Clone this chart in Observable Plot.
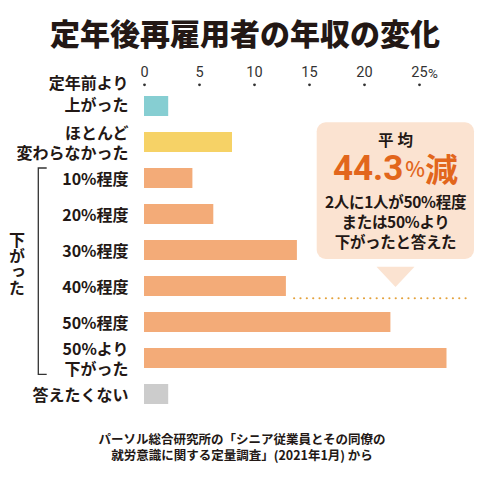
<!DOCTYPE html>
<html><head><meta charset="utf-8">
<script src="https://cdn.jsdelivr.net/npm/d3@7"></script>
<script src="https://cdn.jsdelivr.net/npm/@observablehq/plot@0.6"></script>
<style>
body{margin:0;background:#fff;font-family:"Noto Sans CJK JP",sans-serif;color:#231815;}
#wrap{width:500px;height:480px;overflow:hidden;}
#title{height:56px;line-height:54px;padding-top:5px;box-sizing:border-box;text-align:center;font-size:30px;font-weight:900;padding-right:10px;}
#caption{text-align:center;font-size:12.5px;line-height:16px;padding-top:10.5px;padding-right:16px;font-weight:600;}
svg{display:block;}
</style></head>
<body>
<div id="wrap">
<div id="title">定年後再雇用者の年収の変化</div>
<div id="chart"></div>
<div id="caption">パーソル総合研究所の「シニア従業員とその同僚の<br>就労意識に関する定量調査」(2021年1月) から</div>
</div>
<script>
const categories = ["定年前より\n上がった","ほとんど\n変わらなかった","10%程度","20%程度","30%程度","40%程度","50%程度","50%より\n下がった","答えたくない"];
const values = [2.2, 8.0, 4.4, 6.3, 13.9, 12.9, 22.4, 27.5, 2.2];
const groups = ["up","same","down","down","down","down","down","down","na"];
const groupNames = ["up","same","down","na"];
const groupColors = ["#86ced2","#f6d266","#f3ab78","#cccccc"];
const xTicks = [0, 5, 10, 15, 20, 25];
const bracketGroup = "down";
const bracketLabel = "下がった";
const calloutHead = "平均";
const calloutValue = "44.3";
const calloutLines = ["2人に1人が50%程度","または50%より","下がったと答えた"];

const data = categories.map((c, i) => ({label: c, value: values[i], group: groups[i]}));

const H = 364, MT = 30, MB = 5, PI = 0.44, PO = 0.22;
const step = (H - MT - MB) / (categories.length - PI + 2 * PO);
const bw = step * (1 - PI);
const dotRow = categories[5];
const dotVal = values[5];

const FONT_JP = '"Noto Sans CJK JP", sans-serif';
const FONT_NUM = '"Liberation Sans Narrow", "Roboto", sans-serif';
const yAxisStyle = {tickSize: 0, tickPadding: 16, fontSize: 16, fontWeight: 700, lineHeight: 1.22,
  fill: "#231815", tickFormat: d => d, label: null};

const chart = Plot.plot({
  width: 500, height: H,
  marginTop: MT, marginBottom: MB, marginLeft: 144, marginRight: 26,
  x: {domain: [0, 30], axis: null, label: null},
  y: {domain: categories, paddingInner: PI, paddingOuter: PO, axis: null, label: null},
  color: {domain: groupNames, range: groupColors},
  style: {fontFamily: FONT_JP, color: "#231815", background: "#fff"},
  marks: [
    Plot.barX(data, {x: "value", y: "label", fill: "group"}),
    Plot.axisX({anchor: "top", ticks: xTicks, tickSize: 0, tickPadding: 10, fontSize: 14.5,
      fontFamily: FONT_NUM, fill: "#333", tickFormat: d => String(d), label: null}),
    Plot.dot(xTicks, {x: d => d, frameAnchor: "top", dy: -1.7, r: 1.4, fill: "#333", stroke: null}),
    Plot.text(["%"], {x: () => 25, frameAnchor: "top", dy: -18, dx: 8.5, textAnchor: "start",
      fontSize: 13.5, fontFamily: FONT_NUM, fill: "#333"}),
    Plot.axisY({...yAxisStyle, ticks: categories.slice(1)}),
    Plot.axisY({...yAxisStyle, ticks: categories.slice(0, 1), dy: -14, lineHeight: 1.38}),
    Plot.ruleY([dotRow], {y: d => d, dy: bw / 2 + 1.5, x1: dotVal + 0.75, x2: 29.8,
      stroke: "#e4a23c", strokeWidth: 2.2, strokeDasharray: "0 6.35", strokeLinecap: "round"})
  ]
});
document.getElementById("chart").appendChild(chart);

// Annotations derived from the scales
const ys = chart.scale("y");
const downCats = categories.filter((c, i) => groups[i] === bracketGroup);
const yTop = ys.apply(downCats[0]);
const yBot = ys.apply(downCats[downCats.length - 1]) + bw + 6;
const svg = d3.select(chart);
const bx = 38.3;
svg.append("path")
  .attr("d", `M${bx + 8.4},${yTop}H${bx}V${yBot}H${bx + 8.4}`)
  .attr("fill", "none").attr("stroke", "#333").attr("stroke-width", 1.3);
svg.append("text")
  .attr("x", 17).attr("y", (yTop + yBot) / 2 - 7)
  .attr("text-anchor", "middle")
  .style("writing-mode", "vertical-rl")
  .attr("font-family", FONT_JP)
  .attr("font-size", 16).attr("font-weight", 700).attr("fill", "#231815")
  .text(bracketLabel);

// Callout box
const cx = 395.5;
const g = svg.append("g").attr("font-family", FONT_JP).attr("text-anchor", "middle");
g.append("rect").attr("x", 316.7).attr("y", 66.3).attr("width", 157.3).attr("height", 136.7)
  .attr("rx", 9).attr("fill", "#fbe3d1");
g.append("path").attr("d", `M${cx - 19},${210.7}L${cx + 19},${210.7}L${cx},${231}Z`).attr("fill", "#fbe3d1");
g.append("text").attr("x", cx + 2).attr("y", 83).attr("dominant-baseline", "central")
  .attr("font-size", 15.5).attr("font-weight", 700).attr("fill", "#231815").attr("letter-spacing", 4)
  .text(calloutHead);
const big = g.append("text").attr("x", cx).attr("y", 112).attr("dominant-baseline", "central")
  .attr("font-weight", 700).attr("fill", "#e2661c");
big.append("tspan").attr("font-size", 35).attr("font-family", '"Roboto", sans-serif').text(calloutValue);
big.append("tspan").attr("font-size", 21).attr("font-weight", 500).attr("dx", 2).text("%");
big.append("tspan").attr("font-size", 33).text("減");
calloutLines.forEach((t, i) => {
  g.append("text").attr("x", cx).attr("y", 145 + i * 20).attr("dominant-baseline", "central")
    .attr("font-size", 15.5).attr("font-weight", 700).attr("fill", "#231815").attr("letter-spacing", -0.3)
    .text(t);
});
</script>
</body></html>
